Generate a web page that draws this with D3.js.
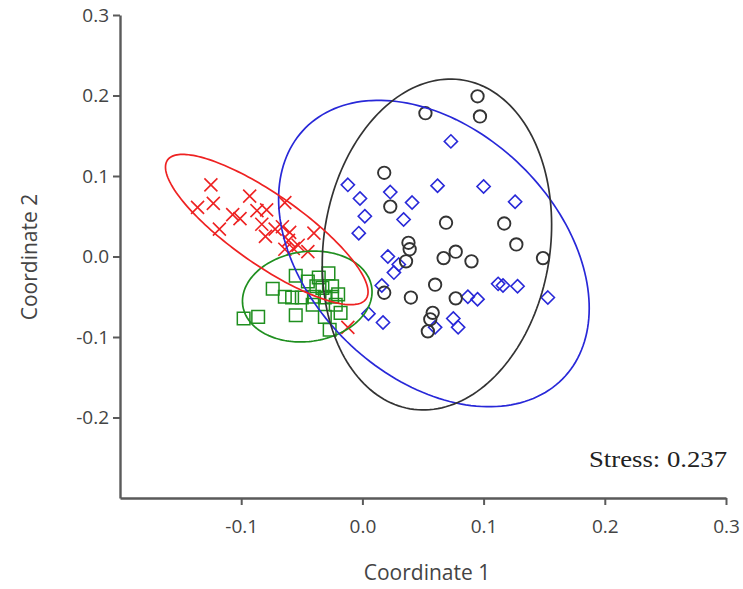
<!DOCTYPE html>
<html>
<head>
<meta charset="utf-8">
<script src="https://cdn.jsdelivr.net/npm/d3@7"></script>
<style>
  body { margin: 0; background: #fff; }
  svg { display: block; }
</style>
</head>
<body>
<svg></svg>
<script>
// NMDS coordinates, one array per group
let redPts = [
  [-0.125, 0.089], [-0.136, 0.061], [-0.123, 0.066], [-0.118, 0.034], [-0.093, 0.075],
  [-0.101, 0.047], [-0.087, 0.057], [-0.079, 0.058], [-0.080, 0.025], [-0.064, 0.067],
  [-0.066, 0.037], [-0.061, 0.020], [-0.053, 0.014], [-0.045, 0.006], [-0.040, 0.029],
  [-0.057, 0.010], [-0.064, 0.009], [-0.083, 0.040], [-0.012, -0.088], [-0.107, 0.052],
  [-0.072, 0.034], [-0.060, 0.030]
];
let greenPts = [
  [-0.098, -0.077], [-0.086, -0.075], [-0.074, -0.040], [-0.055, -0.024], [-0.045, -0.031],
  [-0.028, -0.021], [-0.064, -0.050], [-0.055, -0.073], [-0.040, -0.050], [-0.033, -0.039],
  [-0.031, -0.051], [-0.025, -0.050], [-0.022, -0.060], [-0.031, -0.075], [-0.018, -0.070],
  [-0.041, -0.060], [-0.050, -0.051], [-0.038, -0.037], [-0.025, -0.037], [-0.020, -0.047],
  [-0.027, -0.091], [-0.036, -0.026], [-0.058, -0.051]
];
let bluePts = [
  [-0.012, 0.089], [-0.002, 0.072], [0.002, 0.050], [-0.003, 0.029], [0.023, 0.080],
  [0.041, 0.067], [0.034, 0.046], [0.062, 0.088], [0.073, 0.143], [0.100, 0.087],
  [0.126, 0.068], [0.021, 0.000], [0.026, -0.020], [0.016, -0.036], [0.030, -0.010],
  [0.005, -0.071], [0.017, -0.082], [0.112, -0.034], [0.116, -0.036], [0.128, -0.037],
  [0.153, -0.051], [0.087, -0.050], [0.095, -0.053], [0.075, -0.077], [0.079, -0.088],
  [0.060, -0.088]
];
let blackPts = [
  [0.095, 0.199], [0.097, 0.174], [0.052, 0.178], [0.018, 0.104], [0.023, 0.062],
  [0.069, 0.042], [0.117, 0.041], [0.127, 0.015], [0.149, -0.002], [0.038, 0.017],
  [0.039, 0.009], [0.036, -0.006], [0.067, -0.002], [0.077, 0.006], [0.090, -0.006],
  [0.060, -0.035], [0.040, -0.051], [0.077, -0.052], [0.018, -0.045], [0.058, -0.070],
  [0.056, -0.078], [0.054, -0.093]
];

// ellipses: centre plus two conjugate semi-axes, in data units
let redEllipse   = [-0.0789, 0.0335, 0.0819, -0.0863, -0.0166, -0.0356];
let greenEllipse = [-0.0455, -0.0497, 0.0532, 0.0112, 0.0052, -0.0553];
let blueEllipse  = [0.0590, 0.0037, 0.1060, -0.1560, -0.0720, -0.1090];
let blackEllipse = [0.0615, 0.0149, 0.0190, 0.2048, 0.0927, -0.0171];

let xTicks = [-0.1, 0.0, 0.1, 0.2, 0.3],
    yTicks = [-0.2, -0.1, 0.0, 0.1, 0.2, 0.3],
    stressText = "Stress: 0.237";

let width = 743, height = 589,
    padLeft = 120, padRight = 726, padTop = 15, padBottom = 498,
    xScale = d3.scaleLinear().domain([-0.2, 0.3]).range([padLeft, padRight]),
    yScale = d3.scaleLinear().domain([-0.3, 0.3]).range([padBottom, padTop]),
    axisColor = "#5a5a5a",
    labelFont = "'Open Sans', 'Noto Sans', sans-serif";

let svg = d3.select("svg")
  .attr("width", width)
  .attr("height", height);

let xAxis = d3.axisBottom(xScale).tickValues(xTicks).tickFormat(d => d.toFixed(1)).tickSize(7).tickSizeOuter(0),
    yAxis = d3.axisLeft(yScale).tickValues(yTicks).tickFormat(d => d.toFixed(1)).tickSize(7).tickSizeOuter(0).tickPadding(4);

let gx = svg.append("g").attr("transform", `translate(0,${padBottom})`).call(xAxis);
let gy = svg.append("g").attr("transform", `translate(${padLeft},0)`).call(yAxis);

[gx, gy].forEach(g => {
  g.attr("font-size", null).attr("font-family", null);
  g.select(".domain").attr("stroke", axisColor).attr("stroke-width", 2.4);
  g.selectAll(".tick line").attr("stroke", axisColor).attr("stroke-width", 2);
  g.selectAll(".tick text")
    .attr("fill", "#444")
    .style("font-family", labelFont)
    .style("font-size", "19px");
});
gx.selectAll(".tick text").attr("y", 35).attr("dy", 0);
gy.selectAll(".tick text").attr("dy", "0.34em");

svg.append("text")
  .attr("x", (padLeft + padRight) / 2 + 4)
  .attr("y", 580)
  .attr("text-anchor", "middle")
  .style("font-family", labelFont)
  .style("font-size", "21px")
  .attr("fill", "#444")
  .text("Coordinate 1");

svg.append("text")
  .attr("transform", `translate(37,257) rotate(-90)`)
  .attr("text-anchor", "middle")
  .style("font-family", labelFont)
  .style("font-size", "21px")
  .attr("fill", "#444")
  .text("Coordinate 2");

svg.append("text")
  .attr("x", 727)
  .attr("y", 467)
  .attr("text-anchor", "end")
  .style("font-family", "'Liberation Serif', 'DejaVu Serif', serif")
  .style("font-size", "23px")
  .attr("textLength", 138)
  .attr("lengthAdjust", "spacingAndGlyphs")
  .attr("fill", "#222")
  .text(stressText);

// marker shapes
let shapes = {
  cross:   "M-6.5,-6.5L6.5,6.5M-6.5,6.5L6.5,-6.5",
  square:  "M-6.3,-6.3H6.3V6.3H-6.3Z",
  diamond: "M0,-6.6L6.6,0L0,6.6L-6.6,0Z",
  circle:  d3.arc()({innerRadius: 0, outerRadius: 6.2, startAngle: 0, endAngle: 2 * Math.PI})
};

let groups = [
  {pts: greenPts, ell: greenEllipse, color: "#1f8f1f", shape: "square",  sw: 1.5},
  {pts: bluePts,  ell: blueEllipse,  color: "#2828d8", shape: "diamond", sw: 1.6},
  {pts: blackPts, ell: blackEllipse, color: "#333333", shape: "circle",  sw: 1.9},
  {pts: redPts,   ell: redEllipse,   color: "#ee2222", shape: "cross",   sw: 1.6}
];

let ellipseLine = d3.line().curve(d3.curveLinearClosed);

groups.forEach(g => {
  svg.append("g")
    .selectAll("path")
    .data(g.pts)
    .enter()
    .append("path")
    .attr("transform", d => `translate(${xScale(d[0])},${yScale(d[1])})`)
    .attr("d", shapes[g.shape])
    .attr("fill", "none")
    .attr("stroke", g.color)
    .attr("stroke-width", g.sw);
});

groups.forEach(g => {
  let [cx, cy, ax, ay, bx, by] = g.ell;
  let ring = d3.range(0, 2 * Math.PI, Math.PI / 90).map(t => [
    xScale(cx + ax * Math.cos(t) + bx * Math.sin(t)),
    yScale(cy + ay * Math.cos(t) + by * Math.sin(t))
  ]);
  svg.append("path")
    .attr("d", ellipseLine(ring))
    .attr("fill", "none")
    .attr("stroke", g.color)
    .attr("stroke-width", 1.7);
});
</script>
</body>
</html>
